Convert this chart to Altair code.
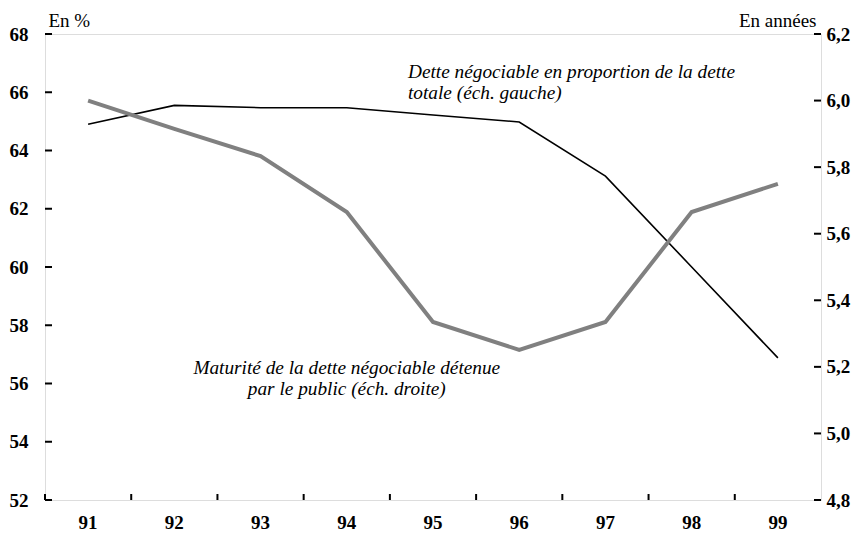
import altair as alt
import pandas as pd

years = ["91", "92", "93", "94", "95", "96", "97", "98", "99"]
dette = [64.9, 65.55, 65.47, 65.47, 65.22, 64.98, 63.12, 60.0, 56.88]
maturite = [6.0, 5.915, 5.833, 5.665, 5.335, 5.251, 5.335, 5.665, 5.75]

left_ticks = [52, 54, 56, 58, 60, 62, 64, 66, 68]
right_ticks = [4.8, 5.0, 5.2, 5.4, 5.6, 5.8, 6.0, 6.2]

annot_text = [
    ["Dette négociable en proportion de la dette", "totale (éch. gauche)"],
    ["Maturité de la dette négociable détenue", "par le public (éch. droite)"],
]
annot_year = ["95", "94"]
annot_val = [66.49, 56.33]

W, H = 776, 466
FONT = "Liberation Serif"

df = pd.DataFrame({"year": years, "left": dette, "right": maturite})
df_lt = pd.DataFrame({"left": left_ticks})
df_rt = pd.DataFrame({"right": right_ticks})
df_xt = pd.DataFrame({"year": years})

xscale = alt.Scale(type="band", domain=years, paddingInner=0, paddingOuter=0)
lscale = alt.Scale(domain=[52, 68], nice=False, zero=False)
rscale = alt.Scale(domain=[4.8, 6.2], nice=False, zero=False)

x_axis = alt.Axis(
    ticks=False, domain=False, grid=False, labelAngle=0,
    labelFont=FONT, labelFontSize=19, labelFontWeight="bold", labelColor="black",
    labelPadding=13, title=None,
)
l_axis = alt.Axis(
    orient="left", values=left_ticks, ticks=False, domain=False, grid=False,
    labelFont=FONT, labelFontSize=19, labelFontWeight="bold", labelColor="black",
    labelPadding=17, title="En %", titleAngle=0, titleAlign="left",
    titleBaseline="alphabetic", titleX=3, titleY=-8, titleFont=FONT,
    titleFontSize=19, titleFontWeight="normal", titleColor="black",
)
r_axis = alt.Axis(
    orient="right", values=right_ticks, ticks=False, domain=False, grid=False,
    labelFont=FONT, labelFontSize=19, labelFontWeight="bold", labelColor="black",
    labelPadding=5, labelExpr="replace(format(datum.value, '.1f'), '.', ',')",
    title="En années", titleAngle=0, titleAlign="right",
    titleBaseline="alphabetic", titleX=-5, titleY=-8, titleFont=FONT,
    titleFontSize=19, titleFontWeight="normal", titleColor="black",
)

black_line = alt.Chart(df).mark_line(color="black", strokeWidth=1.6).encode(
    x=alt.X("year:N", scale=xscale, axis=x_axis, bandPosition=0.5),
    y=alt.Y("left:Q", scale=lscale, axis=l_axis),
)
lticks = alt.Chart(df_lt).mark_rule(color="black", strokeWidth=2).encode(
    y=alt.Y("left:Q", scale=lscale, axis=l_axis),
    x=alt.value(0), x2=alt.value(7),
)
annot_df = pd.DataFrame({
    "year": annot_year, "left": annot_val, "text": annot_text,
})
annot1 = alt.Chart(annot_df.iloc[[0]]).mark_text(
    font=FONT, fontSize=19.3, fontStyle="italic", align="left",
    baseline="alphabetic", lineHeight=21, dx=-25, color="black",
).encode(
    x=alt.X("year:N", scale=xscale, axis=x_axis, bandPosition=0.5),
    y=alt.Y("left:Q", scale=lscale, axis=l_axis),
    text="text",
)
annot2 = alt.Chart(annot_df.iloc[[1]]).mark_text(
    font=FONT, fontSize=19.3, fontStyle="italic", align="center",
    baseline="alphabetic", lineHeight=21, dx=0, color="black",
).encode(
    x=alt.X("year:N", scale=xscale, axis=x_axis, bandPosition=0.5),
    y=alt.Y("left:Q", scale=lscale, axis=l_axis),
    text="text",
)
xticks = alt.Chart(df_xt).mark_rule(color="black", strokeWidth=2).encode(
    x=alt.X("year:N", scale=xscale, axis=x_axis, bandPosition=0),
    y=alt.value(H), y2=alt.value(H - 6),
)

gray_line = alt.Chart(df).mark_line(color="#808080", strokeWidth=4).encode(
    x=alt.X("year:N", scale=xscale, axis=x_axis, bandPosition=0.5),
    y=alt.Y("right:Q", scale=rscale, axis=r_axis),
)
rticks = alt.Chart(df_rt).mark_rule(color="black", strokeWidth=2).encode(
    y=alt.Y("right:Q", scale=rscale, axis=r_axis),
    x=alt.value(W - 7), x2=alt.value(W),
)

left_layer = alt.layer(xticks, lticks, black_line, annot1, annot2)
right_layer = alt.layer(rticks, gray_line)

chart = alt.layer(left_layer, right_layer).resolve_scale(y="independent").properties(
    width=W, height=H,
    autosize=alt.AutoSizeParams(type="none"),
    padding={"left": 37, "top": 26, "right": 31, "bottom": 33},
).configure_view(stroke="black", strokeWidth=2).configure(background="white")

chart.save("out.html", embed_options={"renderer": "svg", "actions": False})
